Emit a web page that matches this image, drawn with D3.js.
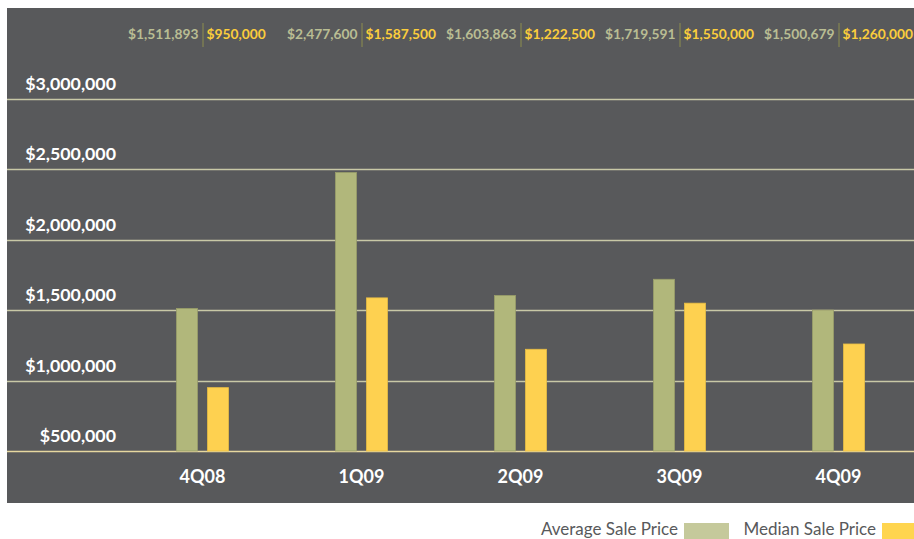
<!DOCTYPE html>
<html>
<head>
<meta charset="utf-8">
<script src="https://cdn.jsdelivr.net/npm/d3@7"></script>
<style>
  html, body { margin: 0; padding: 0; background: #fff; }
  svg { display: block; }
</style>
</head>
<body>
<div id="chart"></div>
<script>
const quarters = ["4Q08", "1Q09", "2Q09", "3Q09", "4Q09"];
const averagePrice = [1511893, 2477600, 1603863, 1719591, 1500679];
const medianPrice = [950000, 1587500, 1222500, 1550000, 1260000];
const yTicks = [500000, 1000000, 1500000, 2000000, 2500000, 3000000];
const seriesNames = ["Average Sale Price", "Median Sale Price"];

const width = 914, height = 539;
const panel = { x: 7, y: 8, w: 907, h: 495 };

const svg = d3.select("#chart")
  .append("svg")
  .attr("width", width)
  .attr("height", height);

svg.append("rect")
  .attr("x", panel.x).attr("y", panel.y)
  .attr("width", panel.w).attr("height", panel.h)
  .attr("fill", "#58595b");

const y = d3.scaleLinear().domain([500000, 3000000]).range([451, 99]);
const x = d3.scaleBand().domain(quarters).range([123, 918]).padding(0);
const xs = d3.scaleBand().domain(["avg", "med"]).range([-26, 26]).paddingInner(0.323);

const money = d3.format("$,");

// grid lines + labels
const grid = svg.append("g");
grid.selectAll("line")
  .data(yTicks)
  .join("line")
    .attr("x1", panel.x)
    .attr("x2", panel.x + panel.w)
    .attr("y1", d => Math.round(y(d)) + 0.5)
    .attr("y2", d => Math.round(y(d)) + 0.5)
    .attr("stroke", d => d === 500000 ? "#e6d8a0" : "#c8c8a6")
    .attr("stroke-width", 1.5);

grid.selectAll("text")
  .data(yTicks)
  .join("text")
    .attr("x", 116)
    .attr("y", d => y(d) - 9)
    .attr("text-anchor", "end")
    .attr("fill", "#ffffff")
    .attr("font-family", "Lato, sans-serif")
    .attr("font-weight", 700)
    .attr("font-size", 17.8)
    .text(d => money(d));

// bars
const groups = svg.append("g")
  .selectAll("g")
  .data(quarters)
  .join("g")
    .attr("transform", d => `translate(${x(d) + x.bandwidth() / 2},0)`);

groups.append("rect")
  .attr("x", xs("avg"))
  .attr("width", xs.bandwidth())
  .attr("y", (d, i) => y(averagePrice[i]))
  .attr("height", (d, i) => y(500000) - y(averagePrice[i]))
  .attr("fill", "#b1b77b")
  .attr("stroke", "#9a9f6a")
  .attr("stroke-width", 0.8);

groups.append("rect")
  .attr("x", xs("med"))
  .attr("width", xs.bandwidth())
  .attr("y", (d, i) => y(medianPrice[i]))
  .attr("height", (d, i) => y(500000) - y(medianPrice[i]))
  .attr("fill", "#fed150")
  .attr("stroke", "#e8bd45")
  .attr("stroke-width", 0.8);

// x labels
groups.append("text")
  .attr("y", 483)
  .attr("text-anchor", "middle")
  .attr("fill", "#ffffff")
  .attr("font-family", "Lato, sans-serif")
  .attr("font-weight", 700)
  .attr("font-size", 18)
  .text(d => d);

// value labels on top
groups.append("line")
  .attr("x1", 0.5).attr("x2", 0.5)
  .attr("y1", 23).attr("y2", 47)
  .attr("stroke", "#8d8f4e")
  .attr("stroke-width", 1);

groups.append("text")
  .attr("x", -4)
  .attr("y", 39)
  .attr("text-anchor", "end")
  .attr("fill", "#b9bd93")
  .attr("font-family", "Lato, sans-serif")
  .attr("font-weight", 700)
  .attr("font-size", 13.8)
  .text((d, i) => money(averagePrice[i]));

groups.append("text")
  .attr("x", 4)
  .attr("y", 39)
  .attr("text-anchor", "start")
  .attr("fill", "#fbcd3c")
  .attr("font-family", "Lato, sans-serif")
  .attr("font-weight", 700)
  .attr("font-size", 13.8)
  .text((d, i) => money(medianPrice[i]));

// legend
const legend = [
  { name: seriesNames[0], textRight: 678, sx: 684, color: "#c5c99b" },
  { name: seriesNames[1], textRight: 876, sx: 882, color: "#ffd54f" }
];
const lg = svg.append("g")
  .selectAll("g")
  .data(legend)
  .join("g");
lg.append("text")
  .attr("x", d => d.textRight)
  .attr("y", 535)
  .attr("text-anchor", "end")
  .attr("fill", "#58595b")
  .attr("font-family", "Lato, sans-serif")
  .attr("font-size", 17)
  .text(d => d.name);
lg.append("rect")
  .attr("x", d => d.sx)
  .attr("y", 523)
  .attr("width", 45)
  .attr("height", 20)
  .attr("fill", d => d.color);
</script>
</body>
</html>
